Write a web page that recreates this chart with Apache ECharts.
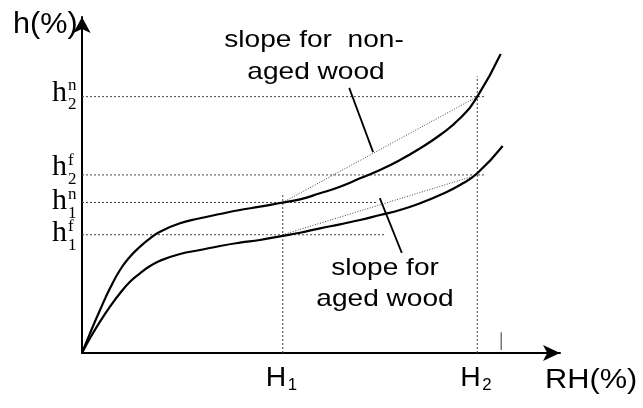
<!DOCTYPE html>
<html><head><meta charset="utf-8">
<script src="https://cdn.jsdelivr.net/npm/echarts@6/dist/echarts.min.js"></script>
<style>html,body{margin:0;padding:0;background:#fff}#c{width:643px;height:408px}</style>
</head><body><div id="c"></div>
<script>
// ---- data (RH units along x, h units along y) ----
const nonAgedRH = [0, 1.67, 3.77, 5.86, 7.95, 10.04, 12.13, 14.23, 16.32, 20.50, 24.69, 28.87, 33.05, 37.24, 41.42, 45.61, 49.79, 53.97, 58.16, 62.34, 66.53, 70.71, 74.90, 79.08, 82.70, 87.59];
const nonAgedH  = [0, 5.86, 12.80, 19.26, 24.70, 28.66, 31.64, 34.14, 36.10, 38.60, 40.09, 41.37, 42.56, 43.54, 44.64, 45.74, 47.53, 49.49, 51.99, 54.46, 57.44, 60.92, 64.88, 69.85, 76.28, 88.99];
const agedRH = [0, 1.67, 3.77, 5.86, 7.95, 10.04, 12.13, 14.23, 16.32, 20.50, 24.69, 28.87, 33.05, 37.24, 41.42, 45.61, 49.79, 53.97, 58.16, 62.34, 66.53, 70.71, 74.90, 79.08, 82.70, 88.01];
const agedH  = [0, 4.38, 9.32, 13.78, 17.77, 21.22, 23.72, 25.89, 27.47, 29.46, 30.65, 31.85, 32.83, 33.63, 34.73, 35.80, 37.11, 38.30, 39.58, 41.07, 42.56, 44.55, 47.02, 50.00, 53.48, 61.61];

const rhMarkNames = ['1', '2'];          // H1, H2
const rhMarks     = [42.0, 82.7];
const rhMarkTops  = [47.6, 82.4];

const levelSup    = ['f', 'n', 'f', 'n'];
const levelSub    = ['1', '1', '2', '2'];
const levelValues = [35.2, 44.8, 53.0, 76.3]; // h1f, h1n, h2f, h2n
const levelEnds   = [63.2, 61.9, 84.5, 84.5];

const slopeNonAged = [[42.0, 44.8], [82.7, 76.3]];
const slopeAged    = [[42.0, 35.2], [82.7, 53.0]];
const leaderNonAged = [[55.9, 78.9], [60.9, 59.8]];
const leaderAged    = [[62.3, 46.1], [66.9, 29.8]];
const smallTick     = [[87.7, 0.9], [87.7, 6.2]];

const annotNonAged = ['slope for  non-', 'aged wood'];
const annotAged    = ['slope for', 'aged wood'];

// ---- chart ----
const chart = echarts.init(document.getElementById('c'), null, {renderer: 'canvas'});
const zip = (xs, ys) => xs.map((x, i) => [x, ys[i]]);
const line = (data, style, extra) => Object.assign({
  type: 'line', data, symbol: 'none', silent: true, animation: false,
  lineStyle: style
}, extra || {});

const dotStyle = {color: '#444', width: 1, type: [2, 2]};
const slopeStyle = {color: '#333', width: 0.9, type: [1, 1.6]};
const series = [];
levelValues.forEach((v, i) => series.push(line([[0, v], [levelEnds[i], v]], dotStyle)));
rhMarks.forEach((v, i) => series.push(line([[v, 0], [v, rhMarkTops[i]]], dotStyle)));
series.push(line(slopeNonAged, slopeStyle));
series.push(line(slopeAged, slopeStyle));
series.push(line(zip(nonAgedRH, nonAgedH), {color: '#000', width: 2.2}, {smooth: 0.5, z: 5}));
series.push(line(zip(agedRH, agedH), {color: '#000', width: 2.2}, {smooth: 0.5, z: 5}));
series.push(line(leaderNonAged, {color: '#000', width: 1.8}));
series.push(line(leaderAged, {color: '#000', width: 1.8}));
series.push(line(smallTick, {color: '#555', width: 1.2}));

const axisCommon = {
  type: 'value', min: 0, max: 100,
  axisLine: {show: true, symbol: ['none', 'arrow'], lineStyle: {color: '#000', width: 2}},
  axisTick: {show: false}, axisLabel: {show: false}, splitLine: {show: false}
};
chart.setOption({
  animation: false,
  grid: {left: 82, right: 83, top: 17, bottom: 55, containLabel: false},
  xAxis: Object.assign({}, axisCommon, {axisLine: Object.assign({}, axisCommon.axisLine, {symbolSize: [12, 17], onZero: false})}),
  yAxis: Object.assign({}, axisCommon, {axisLine: Object.assign({}, axisCommon.axisLine, {symbolSize: [13, 16], onZero: false})}),
  series
});

// ---- text ----
const SANS = '"Liberation Sans", Arial, sans-serif';
const SERIF = '"Liberation Serif", "Times New Roman", serif';
function txt(str, x, baseline, size, family, align, sx) {
  return {type: 'text', x, y: baseline - 0.33 * size, scaleX: sx || 1, silent: true, z: 10,
    style: {text: str, x: 0, y: 0, fill: '#000', font: size + 'px ' + family, align: align, verticalAlign: 'middle'}};
}
const px = p => chart.convertToPixel({gridIndex: 0}, p);
const g = [];
const origin = px([0, 0]);
// axis titles
g.push(txt('h(%)', 13, 35, 30, SANS, 'left', 1.02));
g.push(txt('RH(%)', 545, 389, 27, SANS, 'left', 1.14));
// H1, H2
rhMarks.forEach((v, i) => {
  const p = px([v, 0]);
  g.push(txt('H', p[0] - 17, 387, 27, SANS, 'left', 1.05));
  g.push(txt(rhMarkNames[i], p[0] + 5, 391, 16, SANS, 'left', 1.05));
});
// h levels
const baseOffsets = [8, 9, 2.5, 6];
levelValues.forEach((v, i) => {
  const p = px([0, v]);
  const base = p[1] + baseOffsets[i];
  g.push(txt('h', origin[0] - 15, base, 30, SERIF, 'right', 1.0));
  g.push(txt(levelSup[i], origin[0] - 14, base - 11, 17, SERIF, 'left', 1.0));
  g.push(txt(levelSub[i], origin[0] - 14, base + 8, 17, SERIF, 'left', 1.0));
});
// annotations
g.push(txt(annotNonAged[0], 314, 48, 24, SANS, 'center', 1.17));
g.push(txt(annotNonAged[1], 316, 80, 24, SANS, 'center', 1.17));
g.push(txt(annotAged[0], 385, 276, 24, SANS, 'center', 1.17));
g.push(txt(annotAged[1], 385, 307, 24, SANS, 'center', 1.17));
chart.setOption({graphic: g});
</script>
</body></html>
